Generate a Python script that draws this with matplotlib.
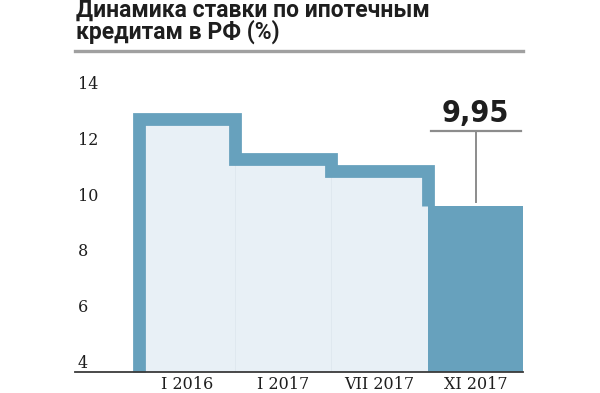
import matplotlib
matplotlib.use("Agg")
import matplotlib.pyplot as plt
from matplotlib import font_manager
from matplotlib.font_manager import FontProperties
import numpy as np

# data
periods = ["I 2016", "I 2017", "VII 2017", "XI 2017"]
rates = [13.05, 11.65, 11.2, 9.95]
yticks = [4, 6, 8, 10, 12, 14]
last_label = "9,95"
title = "Динамика ставки по ипотечным\nкредитам в РФ (%)"

DARK = "#67a1bd"
LIGHT = "#e8f0f6"
GRAY = "#8c8c8c"
INK = "#1e1e1e"

# look for a bold condensed face for the big number, else plain bold
num_prop = FontProperties(family="DejaVu Sans", weight="bold", size=20)
for f in font_manager.fontManager.ttflist:
    narrow = ("Narrow" in f.name or "Condensed" in f.name
              or f.stretch in ("condensed", "semi-condensed"))
    if narrow and f.weight in ("bold", 700, "heavy", 800):
        num_prop = FontProperties(fname=f.fname, size=22)
        break

fig = plt.figure(figsize=(6.0, 3.93), dpi=100)
ax = fig.add_axes([0.125, 0.0534, 0.7467, 0.7455])

x = np.arange(len(periods))
ax.set_xlim(-1.16, 3.49)
ax.set_ylim(4, 14.5)

# light bars for the earlier periods, dark bar for the latest
ax.bar(x[:-1], rates[:-1], width=1.0, color=LIGHT, edgecolor="#dfe8ef",
       linewidth=0.6, zorder=1)
ax.bar(x[-1:], rates[-1:], width=1.0, color=DARK, linewidth=0, zorder=1)

# thick step outline over the light bars
sx = [x[0] - 0.5]
sy = [4]
for i in range(len(rates) - 1):
    sx += [x[i] - 0.5, x[i] + 0.5]
    sy += [rates[i], rates[i]]
sx.append(x[-1] - 0.5)
sy.append(rates[-1])
ax.plot(sx, sy, color=DARK, linewidth=9.2, solid_joinstyle="miter",
        solid_capstyle="butt", zorder=2, clip_on=False)

# callout for the last value
top = 12.64
ax.plot([x[-1], x[-1]], [rates[-1] + 0.15, top], color=GRAY, lw=1.4, zorder=3)
ax.plot([x[-1] - 0.46, x[-1] + 0.47], [top, top], color=GRAY, lw=1.6, zorder=3)
ax.text(x[-1], top + 0.33, last_label, ha="center", va="baseline",
        fontproperties=num_prop, color=INK)

# axes styling
for s in ["left", "right", "top"]:
    ax.spines[s].set_visible(False)
ax.spines["bottom"].set_color("#3a3a3a")
ax.spines["bottom"].set_linewidth(1.3)
ax.spines["bottom"].set_zorder(4)

ax.set_yticks(yticks)
ax.set_yticklabels([str(t) for t in yticks])
ax.tick_params(axis="y", length=0, pad=-2)
for lab in ax.get_yticklabels():
    lab.set_ha("left")
    lab.set_va("bottom")
    lab.set_family("DejaVu Serif")
    lab.set_fontsize(11.5)
    lab.set_color(INK)

ax.set_xticks(x)
ax.set_xticklabels(periods)
ax.tick_params(axis="x", length=0, pad=3)
for lab in ax.get_xticklabels():
    lab.set_family("DejaVu Serif")
    lab.set_fontsize(11.5)
    lab.set_color(INK)

# title and rule
fig.text(0.127, 1 - 38.5 / 393, title, ha="left", va="baseline", fontsize=16.5,
         fontweight="bold", family="Roboto", color=INK, linespacing=0.86)
fig.add_artist(plt.Line2D([0.125, 0.872], [1 - 51 / 393, 1 - 51 / 393],
                          color="#a0a0a0", lw=2.4))

fig.savefig("out.png", dpi=100)
